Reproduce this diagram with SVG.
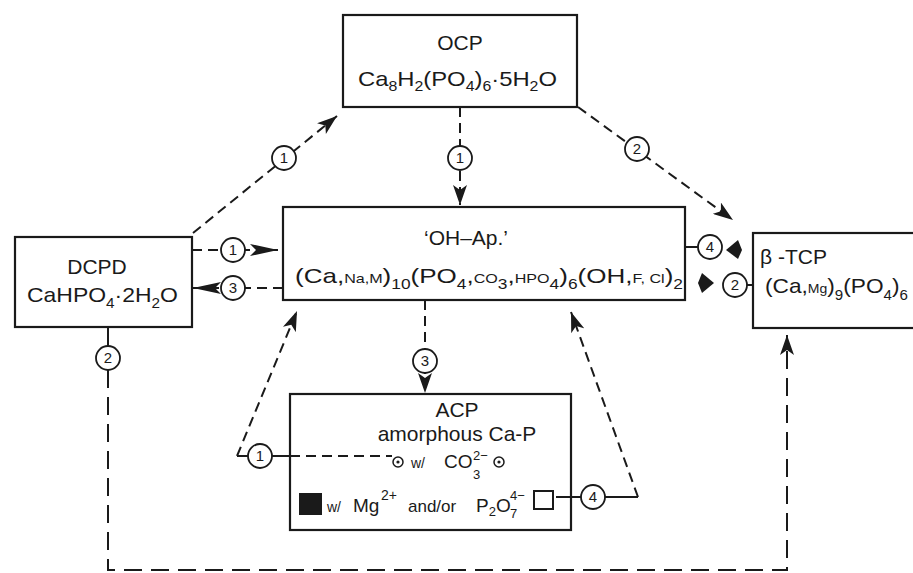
<svg xmlns="http://www.w3.org/2000/svg" width="913" height="573" viewBox="0 0 913 573">
<style>
text{font-family:"Liberation Sans",Arial,sans-serif;fill:#1a1a1a}
.t20{font-size:21px}
.t18{font-size:19px}
.sm{font-size:13px}
.sub{font-size:14px}
.box{fill:#fff;stroke:#1a1a1a;stroke-width:2.2}
.ln{fill:none;stroke:#1a1a1a;stroke-width:2}
.ds{fill:none;stroke:#1a1a1a;stroke-width:2;stroke-dasharray:10 6}
.dl{fill:none;stroke:#1a1a1a;stroke-width:2;stroke-dasharray:18 9}
.cn{fill:#fff;stroke:#1a1a1a;stroke-width:1.8}
.num{font-size:15px;text-anchor:middle}
.blk{fill:#1a1a1a}
</style>
<defs>
<marker id="ah" markerUnits="userSpaceOnUse" markerWidth="22" markerHeight="14" refX="20" refY="7" orient="auto">
<path d="M0,0 L20,7 L0,14 L5,7 Z" fill="#1a1a1a"/>
</marker>
<marker id="ahl" markerUnits="userSpaceOnUse" markerWidth="30" markerHeight="12" refX="28" refY="6" orient="auto">
<path d="M0,0 L28,6 L0,12 L6,6 Z" fill="#1a1a1a"/>
</marker>
</defs>

<g id="ocp">
<rect class="box" x="343" y="15" width="234" height="92"/>
<text class="t20" x="460" y="50" text-anchor="middle">OCP</text>
<text class="t20" x="358" y="86" textLength="199" lengthAdjust="spacingAndGlyphs">Ca<tspan class="sub" dy="5">8</tspan><tspan dy="-5">H</tspan><tspan class="sub" dy="5">2</tspan><tspan dy="-5">(PO</tspan><tspan class="sub" dy="5">4</tspan><tspan dy="-5">)</tspan><tspan class="sub" dy="5">6</tspan><tspan dy="-5">·5H</tspan><tspan class="sub" dy="5">2</tspan><tspan dy="-5">O</tspan></text>
</g>

<g id="dcpd">
<rect class="box" x="15" y="237" width="177" height="90"/>
<text class="t20" x="97" y="274" text-anchor="middle">DCPD</text>
<text class="t20" x="27" y="302" textLength="151" lengthAdjust="spacingAndGlyphs">CaHPO<tspan class="sub" dy="6">4</tspan><tspan dy="-6">·2H</tspan><tspan class="sub" dy="6">2</tspan><tspan dy="-6">O</tspan></text>
</g>

<g id="ohap">
<rect class="box" x="283" y="207" width="402" height="93"/>
<text class="t20" x="466" y="245" text-anchor="middle">‘OH–Ap.’</text>
<text class="t20" x="295" y="283" textLength="388" lengthAdjust="spacingAndGlyphs">(Ca,<tspan class="sm">Na,M</tspan>)<tspan class="sub" dy="6">10</tspan><tspan dy="-6">(PO</tspan><tspan class="sub" dy="6">4</tspan><tspan dy="-6">,</tspan><tspan class="sm">CO</tspan><tspan class="sub" dy="6">3</tspan><tspan dy="-6">,</tspan><tspan class="sm">HPO</tspan><tspan class="sub" dy="6">4</tspan><tspan dy="-6">)</tspan><tspan class="sub" dy="6">6</tspan><tspan dy="-6">(OH,</tspan><tspan class="sm">F, Cl</tspan>)<tspan class="sub" dy="6">2</tspan></text>
</g>

<g id="tcp">
<rect class="box" x="753" y="233" width="175" height="95"/>
<text class="t20" x="760" y="264">β -TCP</text>
<text class="t20" x="765" y="293" textLength="143" lengthAdjust="spacingAndGlyphs">(Ca,<tspan class="sm">Mg</tspan>)<tspan class="sub" dy="7">9</tspan><tspan dy="-7">(PO</tspan><tspan class="sub" dy="7">4</tspan><tspan dy="-7">)</tspan><tspan class="sub" dy="7">6</tspan></text>
</g>

<g id="acp">
<rect class="box" x="290" y="394" width="281" height="136"/>
<text class="t20" x="457" y="417" text-anchor="middle">ACP</text>
<text class="t20" x="457" y="441" text-anchor="middle">amorphous Ca-P</text>
<circle cx="398" cy="462" r="5" fill="none" stroke="#1a1a1a" stroke-width="1.5"/>
<circle cx="398" cy="462" r="1.6" class="blk"/>
<text x="411" y="468" style="font-size:14px">w/</text>
<text class="t18" x="444" y="468">CO</text>
<text class="sm" x="473" y="460">2−</text>
<text class="sm" x="473" y="479">3</text>
<circle cx="499" cy="462" r="5" fill="none" stroke="#1a1a1a" stroke-width="1.5"/>
<circle cx="499" cy="462" r="1.6" class="blk"/>
<rect class="blk" x="299" y="493" width="23" height="22"/>
<text x="327" y="512" style="font-size:14px">w/</text>
<text class="t18" x="353" y="512">Mg</text>
<text class="sm" x="381" y="500" style="font-size:14px">2+</text>
<text x="408" y="512" style="font-size:17px">and/or</text>
<text class="t18" x="476" y="512">P<tspan class="sm" dy="4">2</tspan><tspan dy="-4">O</tspan></text>
<text class="sm" x="510" y="500">4−</text>
<text class="sm" x="510" y="518">7</text>
<rect x="534" y="491" width="19" height="18" fill="#fff" stroke="#1a1a1a" stroke-width="2"/>
</g>

<g id="connectors">
<line class="ds" x1="193" y1="233" x2="337" y2="116" marker-end="url(#ah)"/>
<circle class="cn" cx="284" cy="158" r="12"/><text class="num" x="284" y="163">1</text>
<line class="ds" x1="460" y1="107" x2="460" y2="205" marker-end="url(#ah)"/>
<circle class="cn" cx="460" cy="158" r="12"/><text class="num" x="460" y="163">1</text>
<line class="ds" x1="578" y1="107" x2="733" y2="220" marker-end="url(#ah)"/>
<circle class="cn" cx="637" cy="149" r="12"/><text class="num" x="637" y="154">2</text>
<line class="ds" x1="192" y1="250" x2="278" y2="250" marker-end="url(#ahl)"/>
<circle class="cn" cx="233" cy="250" r="12"/><text class="num" x="233" y="255">1</text>
<line class="ds" x1="283" y1="288" x2="193" y2="288" marker-end="url(#ahl)"/>
<circle class="cn" cx="233" cy="288" r="12"/><text class="num" x="233" y="293">3</text>
<line class="ds" x1="425" y1="300" x2="425" y2="393" marker-end="url(#ah)"/>
<circle class="cn" cx="425" cy="361" r="12"/><text class="num" x="425" y="366">3</text>
<line class="ln" x1="237" y1="456" x2="290" y2="456"/>
<line class="ds" x1="290" y1="456" x2="392" y2="456"/>
<line class="ds" x1="237" y1="456" x2="297" y2="311" marker-end="url(#ah)"/>
<circle class="cn" cx="260" cy="456" r="12"/><text class="num" x="260" y="461">1</text>
<polyline class="ln" points="556,497 638,497"/>
<line class="ds" x1="638" y1="497" x2="571" y2="312" marker-end="url(#ah)"/>
<circle class="cn" cx="593" cy="497" r="12"/><text class="num" x="593" y="502">4</text>
<line class="ln" x1="685" y1="247" x2="698" y2="247"/>
<circle class="cn" cx="710" cy="247" r="12"/><text class="num" x="710" y="252">4</text>
<path class="blk" d="M726,250 L738,240 L742,250 L738,259 Z"/>
<path class="blk" d="M714,283 L702,273 L698,283 L702,293 Z"/>
<line class="ln" x1="747" y1="285" x2="753" y2="285"/>
<circle class="cn" cx="735" cy="285" r="12"/><text class="num" x="735" y="290">2</text>
<line class="ln" x1="108" y1="327" x2="108" y2="346"/>
<path class="dl" d="M108,370 V570 H787 V335" marker-end="url(#ah)"/>
<circle class="cn" cx="108" cy="358" r="12"/><text class="num" x="108" y="363">2</text>
</g>
</svg>
